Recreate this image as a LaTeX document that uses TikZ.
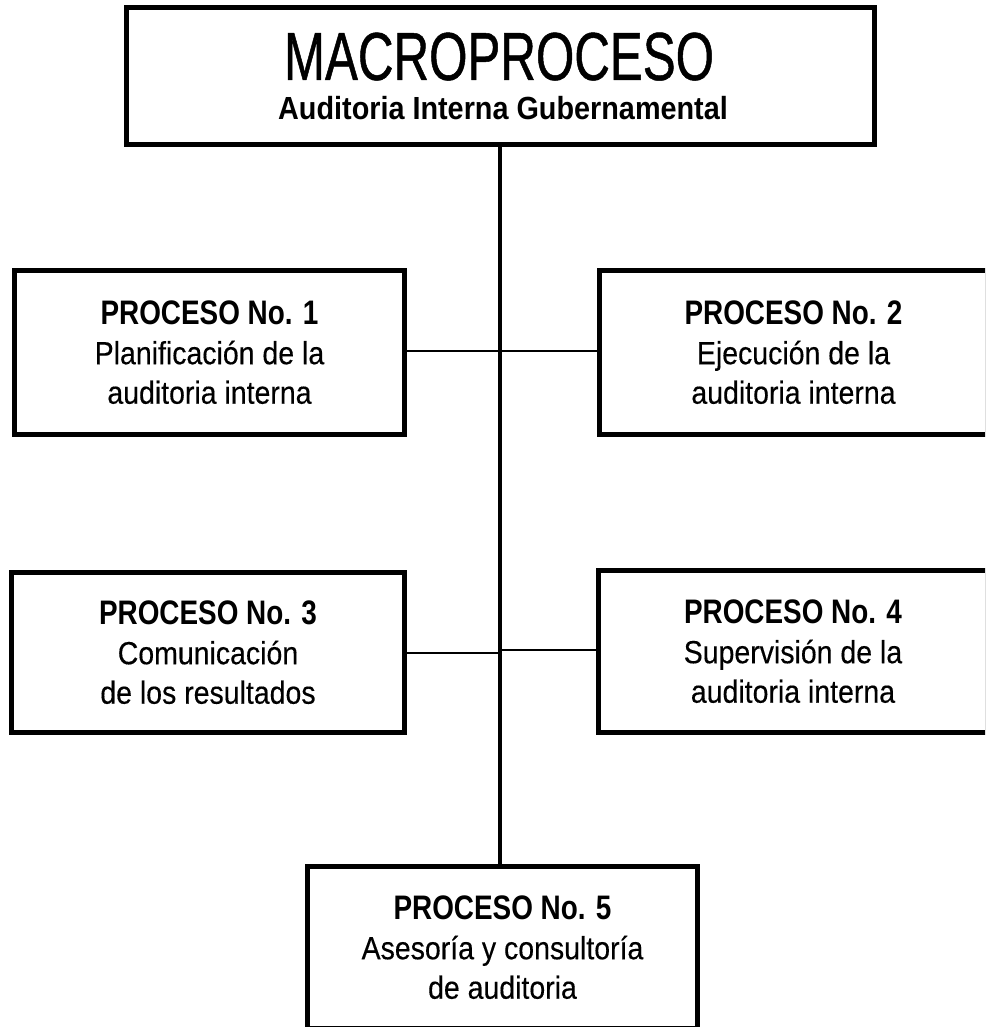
\documentclass[tikz,border=0pt]{standalone}
\usepackage{fontspec}
\setmainfont{Liberation Sans}
% condensed cuts of the sans face for the different text roles
\newfontfamily\headfont[FakeStretch=0.725, FakeBold=0.7]{Liberation Sans}
\newfontfamily\subfont[FakeStretch=0.90]{Liberation Sans}
\newfontfamily\procfont[FakeStretch=0.82]{Liberation Sans}
\newfontfamily\descfont[FakeStretch=0.89, FakeBold=0.3]{Liberation Sans}

\tikzset{
  box/.style={draw=black, line width=5pt, fill=white, inner sep=0pt, outer sep=0pt},
  procbox/.style={box, align=center,
    font=\descfont\fontsize{32}{39.5}\selectfont},
  spineline/.style={draw=black, line width=3.5pt},
  branch/.style={draw=black, line width=2.5pt},
}
\newcommand{\proctitle}[1]{{\procfont\bfseries\fontsize{34}{39.5}\selectfont #1}}

\begin{document}
\begin{tikzpicture}[x=1pt, y=-1pt]
  \useasboundingbox (0,0) rectangle (985,1027);
  \clip (0,0) rectangle (985,1027);

  % junction points on the central spine
  \coordinate (spine) at (500,0);
  \coordinate (j1) at (500,351);
  \coordinate (j3) at (500,653);
  \coordinate (j4) at (500,650);

  % top box
  \node[box, minimum width=748pt, minimum height=137pt] (macro) at (500.5,76) {};
  \node[anchor=base, inner sep=0pt] (macrotitle) at (499,80)
    {\headfont\fontsize{68}{68}\selectfont MACROPROCESO};
  \node[anchor=base, inner sep=0pt] (macrosub) at (503,120)
    {\subfont\bfseries\fontsize{32}{32}\selectfont Auditoria Interna Gubernamental};

  % process boxes
  \node[procbox, minimum width=390pt, minimum height=164pt] (p1) at (209.5,352.5)
    {\proctitle{PROCESO No. 1}\\Planificación de la\\auditoria interna};
  \node[procbox, minimum width=388pt, minimum height=164pt] (p2) at (793.5,352.5)
    {\proctitle{PROCESO No. 2}\\Ejecución de la\\auditoria interna};
  \node[procbox, minimum width=393pt, minimum height=160pt] (p3) at (208,652.5)
    {\proctitle{PROCESO No. 3}\\Comunicación\\de los resultados};
  \node[procbox, minimum width=389pt, minimum height=162pt] (p4) at (793,651.5)
    {\proctitle{PROCESO No. 4}\\Supervisión de la\\auditoria interna};
  \node[procbox, minimum width=390pt, minimum height=162pt] (p5) at (502.5,947.5)
    {\proctitle{PROCESO No. 5}\\Asesoría y consultoría\\de auditoria};

  % connectors
  \draw[spineline] (macro.south -| spine) -- (p5.north -| spine);
  \draw[branch] (p1.east |- j1) -- (p2.west |- j1);
  \draw[branch] (p3.east |- j3) -- (j3);
  \draw[branch] (j4) -- (p4.west |- j4);
\end{tikzpicture}
\end{document}
